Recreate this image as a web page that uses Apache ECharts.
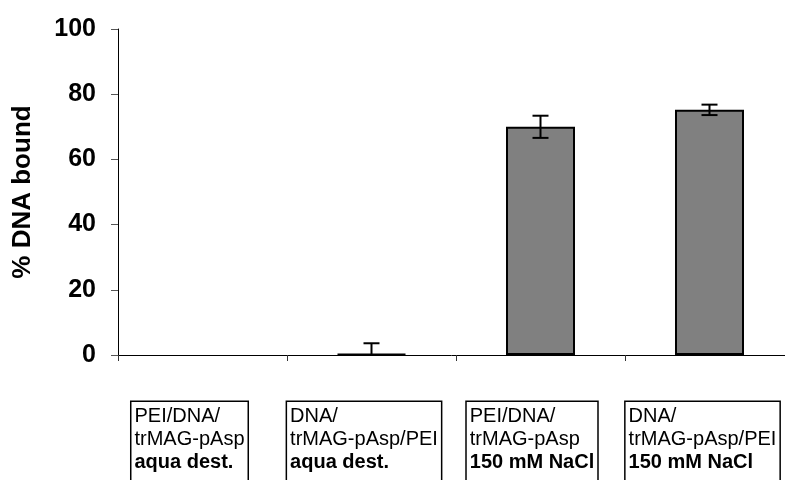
<!DOCTYPE html>
<html>
<head>
<meta charset="utf-8">
<script src="https://cdn.jsdelivr.net/npm/echarts@6/dist/echarts.min.js"></script>
<style>
  html, body { margin: 0; padding: 0; background: #fff; }
  #chart { width: 785px; height: 480px; }
</style>
</head>
<body>
<div id="chart"></div>
<script>
// Complex formulations (caption lines) and the medium they were prepared in
const categories = [
  ['PEI/DNA/', 'trMAG-pAsp', 'aqua dest.'],
  ['DNA/', 'trMAG-pAsp/PEI', 'aqua dest.'],
  ['PEI/DNA/', 'trMAG-pAsp', '150 mM NaCl'],
  ['DNA/', 'trMAG-pAsp/PEI', '150 mM NaCl']
];
// Mean % DNA bound and standard deviation
const boundMean = [0, 0.3, 70.0, 75.2];
const boundSD = [0, 3.3, 3.4, 1.6];
const yTicks = [0, 20, 40, 60, 80, 100];
// Category slots on the x scale: slot i spans [i, i + 1], bars sit in the middle
const slotEdges = [0, 1, 2, 3];

const FONT = 'Arial, "Liberation Sans", sans-serif';
const SLOT_PX = 169;
const GRID_LEFT = 118;
const chart = echarts.init(document.getElementById('chart'), null, { renderer: 'canvas' });
const plotWidth = 785 - GRID_LEFT;

const option = {
  animation: false,
  backgroundColor: '#fff',
  grid: { left: GRID_LEFT, top: 29, right: 0, height: 326, containLabel: false },
  xAxis: {
    type: 'value',
    min: 0,
    max: plotWidth / SLOT_PX,
    axisLine: { show: true, onZero: false, lineStyle: { color: '#000', width: 1 } },
    axisTick: { show: true, length: 6, customValues: slotEdges, lineStyle: { color: '#333' } },
    axisLabel: { show: false },
    splitLine: { show: false }
  },
  yAxis: {
    type: 'value',
    min: yTicks[0],
    max: yTicks[yTicks.length - 1],
    interval: 20,
    name: '% DNA bound',
    nameLocation: 'middle',
    nameGap: 82,
    nameTextStyle: { fontFamily: FONT, fontWeight: 'bold', fontSize: 26, color: '#000' },
    axisLine: { show: true, lineStyle: { color: '#000', width: 1 } },
    axisTick: { show: true, length: 7, lineStyle: { color: '#555' } },
    axisLabel: { fontFamily: FONT, fontWeight: 'bold', fontSize: 25, color: '#000', margin: 22 },
    splitLine: { show: false }
  },
  series: [
    {
      type: 'bar',
      barWidth: 69,
      data: boundMean.map((v, i) => ({
        value: [i + 0.5, v],
        itemStyle: { color: '#808080', borderColor: '#000', borderWidth: v === 0 ? 0 : 2 }
      }))
    },
    {
      type: 'custom',
      clip: true,
      z: 5,
      data: boundMean.map((v, i) => [i + 0.5, v - boundSD[i], v + boundSD[i], boundSD[i]]),
      renderItem: function (params, api) {
        if (api.value(3) === 0) return null;
        const lo = api.coord([api.value(0), api.value(1)]);
        const hi = api.coord([api.value(0), api.value(2)]);
        const x = lo[0];
        const half = 8;
        const style = { stroke: '#000', lineWidth: 2 };
        return {
          type: 'group',
          children: [
            { type: 'line', shape: { x1: x, y1: lo[1], x2: x, y2: hi[1] }, style: style },
            { type: 'line', shape: { x1: x - half, y1: hi[1], x2: x + half, y2: hi[1] }, style: style },
            { type: 'line', shape: { x1: x - half, y1: lo[1], x2: x + half, y2: lo[1] }, style: style }
          ]
        };
      }
    }
  ]
};
chart.setOption(option);

// Boxed category captions under the axis: two plain lines and one bold line
const boxOffsets = [-13, -7.5, -8.5, -7];
const graphics = categories.map((lines, i) => {
  const cx = chart.convertToPixel({ xAxisIndex: 0 }, i + 0.5);
  return {
    type: 'text',
    x: cx + boxOffsets[i],
    y: 402,
    style: {
      text: '{n|' + lines[0] + '}\n{n|' + lines[1] + '}\n{b|' + lines[2] + '}\n{n| }',
      align: 'center',
      verticalAlign: 'top',
      fontFamily: FONT,
      fontSize: 20,
      fill: '#000',
      borderColor: '#000',
      borderWidth: 1.5,
      padding: [3, 3, 3, 3],
      backgroundColor: '#fff',
      rich: {
        n: { fontFamily: FONT, fontSize: 20, lineHeight: 23, fill: '#000', align: 'left' },
        b: { fontFamily: FONT, fontSize: 20, fontWeight: 'bold', lineHeight: 23, fill: '#000', align: 'left' }
      }
    }
  };
});
chart.setOption({ graphic: graphics });
</script>
</body>
</html>
